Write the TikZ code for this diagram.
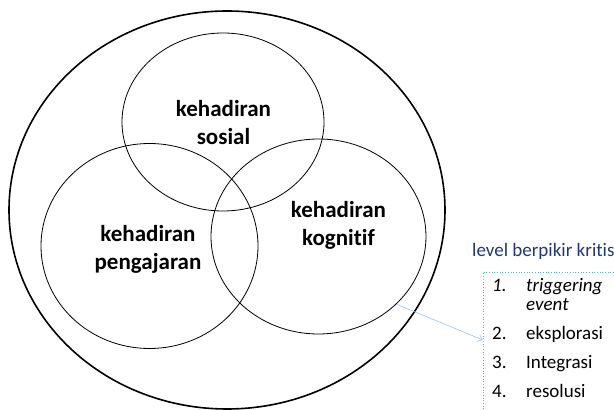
\documentclass[tikz,border=0pt]{standalone}
\usepackage{fontspec}
\setmainfont{Carlito}[Ligatures={NoCommon}]
\usetikzlibrary{shapes.geometric,arrows.meta}
\definecolor{navy}{RGB}{32,56,120}
\definecolor{dotblue}{RGB}{80,175,230}
\definecolor{arrblue}{RGB}{150,195,235}
\tikzset{
  ring/.style={ellipse, draw=black, line width=0.8pt, inner sep=0pt},
  outerring/.style={ellipse, draw=black, line width=1.6pt, inner sep=0pt},
  lbl/.style={font=\fontsize{23}{28}\selectfont\bfseries, align=center, inner sep=0pt},
  listtxt/.style={font=\fontsize{19}{22}\selectfont, anchor=base west, inner sep=0pt},
}
\begin{document}
\begin{tikzpicture}[x=1pt,y=1pt]
\useasboundingbox (0,0) rectangle (614,410);
\clip (0,0) rectangle (614,410);
% outer ellipse
\node[outerring, minimum width=436pt, minimum height=398pt] (outer) at (227,200) {};
% three circles
\node[ring, minimum width=202pt, minimum height=178pt] (sos) at (223,288) {};
\node[ring, minimum width=217pt, minimum height=205pt] (peng) at (149.5,164) {};
\node[ring, minimum width=215pt, minimum height=195pt] (kog) at (318.5,173.5) {};
% labels
\node[lbl] (tsos) at (223.5,287) {kehadiran\\sosial};
\node[lbl] (tpeng) at (148,160.5) {kehadiran\\pengajaran};
\node[lbl] (tkog) at (338.5,184.5) {kehadiran\\kognitif};
% right side
\node[listtxt, text=navy] (title) at (472,153) {level berpikir kritis};
\node[draw=dotblue, dotted, line width=0.7pt, minimum width=137pt, minimum height=143pt, inner sep=0pt] (box) at (551.5,66.5) {};
\node[listtxt] (n1) at (492,118) {\itshape 1.};
\node[listtxt] (i1) at (526,118) {\itshape triggering};
\node[listtxt] (i1b) at (526,99) {\itshape event};
\node[listtxt] (n2) at (492,70) {2.};
\node[listtxt] (i2) at (526,70) {eksplorasi};
\node[listtxt] (n3) at (492,41) {3.};
\node[listtxt] (i3) at (526,41) {Integrasi};
\node[listtxt] (n4) at (492,12.5) {4.};
\node[listtxt] (i4) at (526,12.5) {resolusi};
% connector
\draw[arrblue, line width=0.6pt, -{Straight Barb[length=4pt,width=7pt]}] (kog.-41.8) -- (box.177);
\end{tikzpicture}
\end{document}
